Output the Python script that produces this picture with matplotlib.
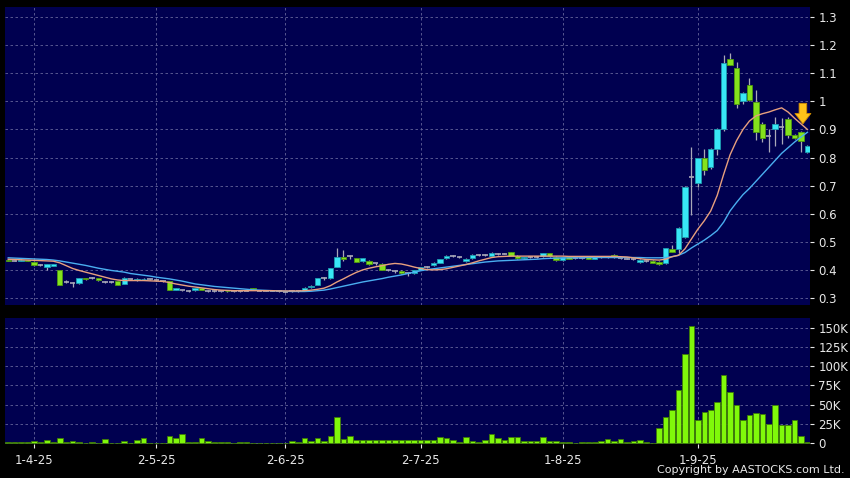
import numpy as np
import matplotlib
matplotlib.use("Agg")
import matplotlib.pyplot as plt
from matplotlib.ticker import FixedLocator, FuncFormatter

# ── DATA ─────────────────────────────────────────────────────────────────────
opens = [.436, .433, .432, .434, .429, .418, .412, .415, .400, .358,
         .352, .352, .370, .372, .370, .358, .358, .360, .350, .366,
         .364, .366, .367, .365, .360, .360, .329, .328, .325, .328,
         .335, .325, .325, .325, .326, .325, .325, .326, .335, .326,
         .326, .326, .325, .323, .325, .324, .325, .338, .346, .370,
         .370, .411, .445, .448, .441, .430, .433, .424, .421, .400,
         .397, .397, .388, .388, .400, .412, .417, .426, .441, .449,
         .446, .430, .441, .453, .453, .449, .457, .457, .463, .450,
         .441, .446, .447, .449, .459, .447, .435, .445, .441, .441,
         .445, .440, .445, .447, .453, .442, .440, .440, .428, .432,
         .433, .428, .425, .474, .474, .517, .730, .709, .798, .766,
         .830, .900, 1.150, 1.118, 1.000, 1.060, .998, .920, .875, .900,
         .910, .937, .880, .890, .820]
highs = [.440, .436, .437, .436, .431, .422, .422, .421, .401, .365,
         .356, .372, .372, .376, .372, .362, .360, .362, .373, .369,
         .370, .370, .369, .367, .362, .361, .337, .330, .328, .336,
         .336, .327, .327, .326, .327, .326, .326, .328, .337, .328,
         .327, .327, .326, .325, .327, .326, .338, .345, .372, .375,
         .408, .477, .470, .452, .444, .443, .436, .426, .423, .403,
         .399, .398, .390, .400, .411, .415, .427, .440, .452, .452,
         .449, .442, .455, .456, .455, .462, .459, .460, .465, .452,
         .447, .448, .449, .460, .461, .449, .446, .447, .443, .443,
         .446, .446, .447, .449, .455, .444, .442, .442, .437, .435,
         .435, .430, .479, .489, .552, .697, .838, .800, .830, .835,
         .905, 1.165, 1.172, 1.140, 1.035, 1.083, 1.040, .925, .900, .945,
         .940, .945, .885, .895, .845]
lows = [.431, .431, .430, .431, .415, .414, .400, .413, .345, .352,
        .340, .350, .365, .366, .362, .355, .355, .345, .349, .363,
        .362, .364, .365, .362, .357, .329, .327, .326, .323, .326,
        .327, .323, .323, .322, .323, .323, .323, .324, .330, .324,
        .324, .324, .323, .320, .323, .322, .324, .336, .345, .365,
        .369, .409, .433, .440, .427, .428, .419, .418, .398, .396,
        .388, .386, .380, .386, .398, .408, .415, .424, .439, .445,
        .442, .428, .439, .450, .450, .447, .454, .455, .448, .440,
        .439, .444, .444, .447, .447, .433, .433, .437, .439, .438,
        .438, .438, .443, .444, .443, .440, .437, .436, .426, .429,
        .425, .418, .422, .462, .460, .512, .595, .695, .738, .760,
        .810, .895, 1.128, .976, .990, 1.000, .862, .855, .820, .840,
        .850, .870, .865, .820, .815]
closes = [.433, .433, .435, .432, .416, .418, .420, .420, .347, .358,
          .352, .370, .366, .372, .363, .358, .358, .346, .371, .366,
          .368, .369, .367, .365, .360, .330, .335, .328, .325, .335,
          .328, .325, .325, .325, .324, .325, .325, .326, .331, .326,
          .326, .326, .325, .323, .325, .324, .336, .343, .370, .370,
          .406, .447, .437, .448, .429, .441, .421, .424, .400, .400,
          .397, .388, .388, .398, .410, .412, .425, .438, .449, .449,
          .446, .440, .453, .453, .453, .459, .457, .457, .450, .442,
          .445, .446, .447, .459, .449, .435, .445, .439, .441, .441,
          .440, .445, .445, .447, .445, .442, .440, .440, .435, .432,
          .426, .420, .478, .464, .549, .695, .730, .798, .756, .830,
          .900, 1.136, 1.130, .990, 1.030, 1.005, .890, .870, .875, .920,
          .910, .880, .870, .858, .840]
volume_k = [1, 1, 1.5, 1, 2, 1, 4.3, 0.8, 7, 1.5,
            3, 1, 0.5, 1.5, 0.3, 5, 0.3, 0.5, 2, 0.3,
            4.3, 6.5, 0.5, 0.3, 0.3, 9, 7, 12, 1.5, 1.5,
            7, 2, 1, 1, 0.8, 0.3, 1, 1.5, 0.5, 0.5,
            0.5, 0.5, 0.5, 0.5, 2, 1, 6, 2.5, 6.5, 2,
            8.5, 34, 5, 8.5, 3.5, 3.5, 3.5, 3.5, 4.3, 3.5,
            4, 4, 4.3, 4.3, 4.3, 4.3, 4.3, 8, 6.5, 4.3,
            1.7, 7.4, 2.6, 1.7, 4.3, 12, 6.5, 3.5, 7.4, 7.4,
            3, 2.6, 3, 8, 3, 3, 1.7, 1, 0.3, 1,
            1, 1, 2.6, 5.6, 2.6, 5.6, 1, 3, 4, 1,
            0.3, 19.5, 34, 43, 69, 116, 153, 30, 41, 43,
            53, 89, 66, 49, 30, 37, 39, 38, 25, 49,
            24, 23, 29.5, 8.7, 1.3]
ma_fast = [.438, .437, .436, .435, .434, .433, .432, .431, .425, .415,
           .405, .398, .392, .386, .380, .374, .368, .364, .362, .362,
           .362, .362, .361, .360, .359, .355, .350, .346, .342, .339,
           .336, .333, .330, .328, .327, .326, .326, .326, .326, .326,
           .326, .326, .325, .325, .325, .325, .326, .328, .331, .335,
           .344, .357, .368, .380, .391, .400, .406, .411, .415, .420,
           .423, .421, .416, .410, .405, .401, .400, .401, .404, .409,
           .414, .419, .425, .432, .438, .444, .447, .448, .449, .449,
           .449, .449, .449, .449, .449, .449, .449, .448, .448, .448,
           .448, .448, .448, .448, .448, .447, .446, .443, .440, .437,
           .436, .435, .438, .447, .452, .475, .510, .545, .575, .610,
           .665, .740, .810, .860, .900, .930, .948, .956, .962, .970,
           .977, .962, .940, .920, .900]
ma_slow = [.443, .442, .441, .440, .439, .438, .437, .435, .432, .428,
           .424, .420, .416, .411, .406, .402, .398, .395, .392, .387,
           .384, .381, .378, .374, .371, .368, .364, .360, .355, .350,
           .347, .344, .341, .339, .337, .335, .333, .331, .329, .328,
           .327, .326, .325, .324, .323, .323, .323, .324, .326, .328,
           .332, .337, .342, .347, .352, .357, .361, .365, .369, .374,
           .378, .382, .387, .392, .397, .401, .404, .407, .410, .413,
           .416, .419, .422, .425, .428, .430, .432, .433, .434, .435,
           .436, .437, .438, .440, .441, .442, .442, .443, .443, .443,
           .444, .444, .444, .444, .444, .444, .444, .444, .444, .443,
           .443, .443, .444, .447, .452, .462, .478, .492, .506, .522,
           .540, .570, .610, .640, .668, .690, .715, .740, .765, .790,
           .815, .835, .855, .873, .890]
date_ticks = [4, 23, 43, 64, 86, 107]
date_labels = ["1-4-25", "2-5-25", "2-6-25", "2-7-25", "1-8-25", "1-9-25"]
price_ticks = [0.3, 0.4, 0.5, 0.6, 0.7, 0.8, 0.9, 1.0, 1.1, 1.2, 1.3]
vol_ticks_k = [0, 25, 50, 75, 100, 125, 150]

# ── STYLE ────────────────────────────────────────────────────────────────────
BG = "#000050"
UP, UP_EDGE = "#38e6f6", "#1c9cb0"
DN, DN_EDGE = "#84e21c", "#4f9a10"
WICK = "#a9a9b8"
GRID = "#64649a"
TXT = "#e8e8e8"

o, h, l, c = map(np.array, (opens, highs, lows, closes))
x = np.arange(len(o))

fig = plt.figure(figsize=(8.5, 4.78), dpi=100, facecolor="black")
ax = fig.add_axes([5/850, 1-305/478, 805/850, 298/478], facecolor=BG)
axv = fig.add_axes([5/850, 1-444/478, 805/850, 126/478], facecolor=BG, sharex=ax)

for a in (ax, axv):
    for s in a.spines.values():
        s.set_visible(False)
    a.grid(True, color=GRID, linestyle=(0, (3, 3)), linewidth=0.6)
    a.set_axisbelow(True)
    a.yaxis.tick_right()
    a.tick_params(axis="y", colors=TXT, labelsize=8.5, length=3, width=0.8, pad=3)

# ── candles ──────────────────────────────────────────────────────────────────
ax.vlines(x, l, h, color=WICK, linewidth=0.9, zorder=2)
up = c > o
dn = c < o
eq = c == o
w = 0.84
ax.bar(x[up], (c - o)[up], bottom=o[up], width=w, color=UP, edgecolor=UP_EDGE,
       linewidth=0.6, zorder=3)
ax.bar(x[dn], (o - c)[dn], bottom=c[dn], width=w, color=DN, edgecolor=DN_EDGE,
       linewidth=0.6, zorder=3)
ax.hlines(o[eq], x[eq] - w/2, x[eq] + w/2, color=WICK, linewidth=1.2, zorder=3)

ax.plot(x, ma_slow, color="#4aaef0", linewidth=1.0, zorder=4)
ax.plot(x, ma_fast, color="#e8a07e", linewidth=1.0, zorder=4)

ax.annotate("", xy=(123.3, 0.910), xytext=(123.3, 1.003),
            arrowprops=dict(arrowstyle="simple,head_length=0.75,head_width=1.15,tail_width=0.55",
                            facecolor="#ffc21a", edgecolor="#d08a00", linewidth=0.6),
            zorder=6)

ax.set_ylim(0.275, 1.336)
ax.set_xlim(-0.5, 124.4)
ax.yaxis.set_major_locator(FixedLocator(price_ticks))
ax.yaxis.set_major_formatter(FuncFormatter(lambda v, p: f"{v:g}"))
ax.xaxis.set_major_locator(FixedLocator(date_ticks))
ax.tick_params(axis="x", length=0, labelbottom=False)

# ── volume ───────────────────────────────────────────────────────────────────
vol = np.array(volume_k) * 1000
axv.bar(x, vol, width=0.86, color="#80f80a", edgecolor="#3e7a06", linewidth=0.6, zorder=3)
axv.set_ylim(-1300, 163000)
axv.yaxis.set_major_locator(FixedLocator([v * 1000 for v in vol_ticks_k]))
axv.yaxis.set_major_formatter(FuncFormatter(lambda v, p: "0" if v == 0 else f"{v/1000:.0f}K"))
axv.set_xticks(date_ticks)
axv.set_xticklabels(date_labels)
axv.tick_params(axis="x", colors=TXT, labelsize=8.5, length=3, width=0.8, pad=4)

fig.text(845/850, 1-470/478, "Copyright by AASTOCKS.com Ltd.", color=TXT,
         fontsize=8, ha="right", va="center")

fig.savefig("out.png", dpi=100, facecolor="black")
